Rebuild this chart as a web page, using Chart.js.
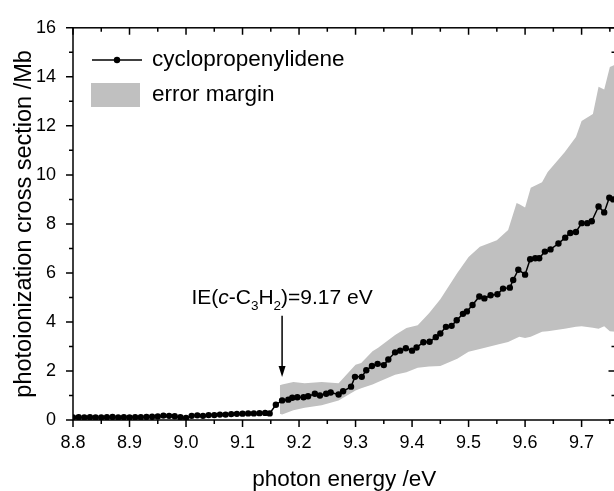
<!DOCTYPE html>
<html>
<head>
<meta charset="utf-8">
<script src="https://cdn.jsdelivr.net/npm/chart.js@4.4.1/dist/chart.umd.min.js"></script>
<style>
  html, body { margin: 0; padding: 0; background: #fff; overflow: hidden; }
  #wrap { width: 622px; height: 491px; }
</style>
</head>
<body>
<div id="wrap"><canvas id="grafico" width="622" height="491"></canvas></div>
<script>
// photon energy /eV and cross section /Mb
const energy = [8.80, 8.81, 8.82, 8.83, 8.84, 8.85, 8.86, 8.87, 8.88, 8.89,
  8.90, 8.91, 8.92, 8.93, 8.94, 8.95, 8.96, 8.97, 8.98, 8.99,
  9.00, 9.01, 9.02, 9.03, 9.04, 9.05, 9.06, 9.07, 9.08, 9.09,
  9.10, 9.11, 9.12, 9.13, 9.14, 9.148, 9.159, 9.170, 9.181, 9.188,
  9.197, 9.208, 9.216, 9.228, 9.237, 9.248, 9.256, 9.270, 9.278, 9.292,
  9.299, 9.311, 9.319, 9.329, 9.339, 9.350, 9.358, 9.370, 9.379, 9.389,
  9.400, 9.408, 9.420, 9.431, 9.442, 9.450, 9.460, 9.470, 9.479, 9.490,
  9.497, 9.507, 9.519, 9.528, 9.539, 9.551, 9.561, 9.573, 9.579, 9.588,
  9.600, 9.609, 9.618, 9.625, 9.635, 9.645, 9.659, 9.671, 9.680, 9.690,
  9.700, 9.710, 9.718, 9.730, 9.740, 9.749, 9.756];
const sigma = [0.10, 0.11, 0.10, 0.11, 0.10, 0.10, 0.11, 0.12, 0.10, 0.11,
  0.10, 0.11, 0.11, 0.12, 0.13, 0.14, 0.18, 0.17, 0.15, 0.11,
  0.08, 0.17, 0.19, 0.17, 0.20, 0.20, 0.22, 0.22, 0.24, 0.25,
  0.26, 0.27, 0.27, 0.28, 0.29, 0.27, 0.62, 0.80, 0.83, 0.91,
  0.93, 0.93, 0.97, 1.07, 1.00, 1.07, 1.12, 1.04, 1.17, 1.36,
  1.76, 1.76, 2.03, 2.20, 2.29, 2.24, 2.47, 2.76, 2.83, 2.93,
  2.83, 2.96, 3.17, 3.19, 3.38, 3.53, 3.80, 3.84, 4.07, 4.33,
  4.43, 4.69, 5.04, 4.96, 5.09, 5.13, 5.36, 5.40, 5.71, 6.13,
  5.93, 6.56, 6.60, 6.60, 6.87, 6.96, 7.20, 7.44, 7.63, 7.67,
  8.03, 8.03, 8.11, 8.71, 8.47, 9.07, 9.00];

// error margin band
const bandEnergy = [9.166, 9.17, 9.19, 9.21, 9.24, 9.27, 9.30, 9.31, 9.33, 9.34,
  9.37, 9.39, 9.41, 9.43, 9.45, 9.48, 9.50, 9.52, 9.55, 9.57,
  9.585, 9.59, 9.60, 9.61, 9.63, 9.64, 9.67, 9.69, 9.70, 9.72,
  9.73, 9.74, 9.75, 9.76];
const bandLow = [0.25, 0.22, 0.40, 0.50, 0.60, 0.80, 1.20, 1.30, 1.45, 1.55,
  1.85, 1.95, 2.13, 2.18, 2.20, 2.50, 2.78, 2.90, 3.07, 3.18,
  3.35, 3.40, 3.35, 3.40, 3.60, 3.62, 3.72, 3.80, 3.82, 3.76,
  3.72, 3.82, 3.62, 3.60];
const bandHigh = [1.42, 1.45, 1.55, 1.50, 1.55, 1.50, 2.25, 2.33, 2.80, 2.95,
  3.47, 3.75, 3.87, 4.35, 4.93, 6.00, 6.65, 7.07, 7.33, 7.75,
  8.85, 8.80, 8.67, 9.47, 9.70, 10.12, 10.92, 11.55, 12.20, 12.48,
  13.60, 13.48, 14.40, 14.50];

// assi
const xTicks = [8.8, 8.9, 9.0, 9.1, 9.2, 9.3, 9.4, 9.5, 9.6, 9.7];
const xMinor = [8.85, 8.95, 9.05, 9.15, 9.25, 9.35, 9.45, 9.55, 9.65, 9.75];
const yTicks = [0, 2, 4, 6, 8, 10, 12, 14, 16];
const yMinor = [1, 3, 5, 7, 9, 11, 13, 15];

const FONT = "'Liberation Sans', Arial, Helvetica, sans-serif";
const GRAY = '#c0c0c0';

const toPoints = (xs, ys) => xs.map((v, i) => ({ x: v, y: ys[i] }));

// cornice, tacche, legenda e annotazione
const cornice = {
  id: 'cornice',
  beforeDatasetsDraw(chart) {
    const { ctx, chartArea: a, scales: { x, y } } = chart;
    ctx.save();
    ctx.strokeStyle = '#000';
    ctx.lineWidth = 1.5;
    ctx.strokeRect(a.left, a.top, a.right - a.left, a.bottom - a.top);
    ctx.beginPath();
    const seg = (x1, y1, x2, y2) => { ctx.moveTo(x1, y1); ctx.lineTo(x2, y2); };
    xTicks.forEach(v => { const p = x.getPixelForValue(v); seg(p, a.bottom, p, a.bottom + 7); seg(p, a.top, p, a.top + 7); });
    xMinor.forEach(v => { const p = x.getPixelForValue(v); seg(p, a.bottom, p, a.bottom + 4); seg(p, a.top, p, a.top + 4); });
    yTicks.forEach(v => { const p = y.getPixelForValue(v); seg(a.left - 7, p, a.left, p); seg(a.right - 7, p, a.right, p); });
    yMinor.forEach(v => { const p = y.getPixelForValue(v); seg(a.left - 4, p, a.left, p); seg(a.right - 4, p, a.right, p); });
    ctx.stroke();
    ctx.restore();
  },
  afterDraw(chart) {
    const { ctx, scales: { x, y } } = chart;
    const ds = chart.data.datasets;
    ctx.save();

    // legenda
    ctx.strokeStyle = '#000';
    ctx.fillStyle = '#000';
    ctx.lineWidth = 1.5;
    ctx.beginPath(); ctx.moveTo(92, 60); ctx.lineTo(142, 60); ctx.stroke();
    ctx.beginPath(); ctx.arc(117, 60, 3.2, 0, Math.PI * 2); ctx.fill();
    ctx.fillStyle = GRAY;
    ctx.fillRect(91, 83, 49, 24);
    ctx.fillStyle = '#000';
    ctx.font = '22.5px ' + FONT;
    ctx.textBaseline = 'middle';
    ctx.textAlign = 'left';
    ctx.fillText(ds[0].label, 152, 60);
    ctx.fillText(ds[2].label, 152, 95);

    // IE annotation
    const cx = x.getPixelForValue(9.17);
    const base = y.getPixelForValue(4.75);
    const normal = '21px ' + FONT, italic = 'italic 21px ' + FONT, sub = '13.5px ' + FONT;
    const parts = [['IE(', normal, 0], ['c', italic, 0], ['-C', normal, 0], ['3', sub, 6],
                   ['H', normal, 0], ['2', sub, 6], [')=9.17 eV', normal, 0]];
    let total = 0;
    parts.forEach(p => { ctx.font = p[1]; total += ctx.measureText(p[0]).width; });
    let px = cx - total / 2;
    ctx.textBaseline = 'alphabetic';
    parts.forEach(p => { ctx.font = p[1]; ctx.fillText(p[0], px, base + p[2]); px += ctx.measureText(p[0]).width; });

    // freccia
    const top = y.getPixelForValue(4.25), tip = y.getPixelForValue(1.75);
    ctx.lineWidth = 1.5;
    ctx.beginPath(); ctx.moveTo(cx, top); ctx.lineTo(cx, tip - 8); ctx.stroke();
    ctx.beginPath(); ctx.moveTo(cx, tip); ctx.lineTo(cx - 3.5, tip - 11); ctx.lineTo(cx + 3.5, tip - 11); ctx.closePath(); ctx.fill();
    ctx.restore();
  }
};

const ctx = document.getElementById('grafico').getContext('2d');
const chart = new Chart(ctx, {
  type: 'line',
  data: {
    datasets: [{
      label: 'cyclopropenylidene',
      data: toPoints(energy, sigma),
      borderColor: '#000',
      backgroundColor: '#000',
      borderWidth: 1.5,
      pointRadius: 3.2,
      pointBorderWidth: 0,
      tension: 0,
      fill: false
    }, {
      label: 'lower',
      data: toPoints(bandEnergy, bandLow),
      borderWidth: 0,
      pointRadius: 0,
      fill: false
    }, {
      label: 'error margin',
      data: toPoints(bandEnergy, bandHigh),
      borderWidth: 0,
      pointRadius: 0,
      backgroundColor: GRAY,
      fill: '-1'
    }]
  },
  options: {
    responsive: false,
    animation: false,
    layout: { padding: { top: 21, right: 6.5, bottom: 0, left: 0 } },
    plugins: { legend: { display: false }, tooltip: { enabled: false } },
    scales: {
      x: {
        type: 'linear',
        min: 8.8,
        max: 9.76,
        grid: { display: false, drawTicks: false },
        border: { display: false },
        afterBuildTicks: s => { s.ticks = xTicks.map(v => ({ value: v })); },
        afterFit: s => { s.height = 71; },
        ticks: {
          padding: 12,
          color: '#000',
          font: { family: FONT, size: 18 },
          maxRotation: 0,
          callback: v => v.toFixed(1)
        },
        title: {
          display: true,
          text: 'photon energy /eV',
          color: '#000',
          font: { family: FONT, size: 22.5, lineHeight: 1 },
          padding: { top: 0, bottom: 0 }
        }
      },
      y: {
        min: 0,
        max: 16,
        grid: { display: false, drawTicks: false },
        border: { display: false },
        afterBuildTicks: s => { s.ticks = yTicks.map(v => ({ value: v })); },
        afterFit: s => { s.width = 73; },
        ticks: {
          padding: 17,
          color: '#000',
          font: { family: FONT, size: 18 }
        },
        title: {
          display: true,
          text: 'photoionization cross section /Mb',
          color: '#000',
          font: { family: FONT, size: 23.5, lineHeight: 1.2 },
          padding: { top: 10, bottom: 0 }
        }
      }
    }
  },
  plugins: [cornice]
});
</script>
</body>
</html>
